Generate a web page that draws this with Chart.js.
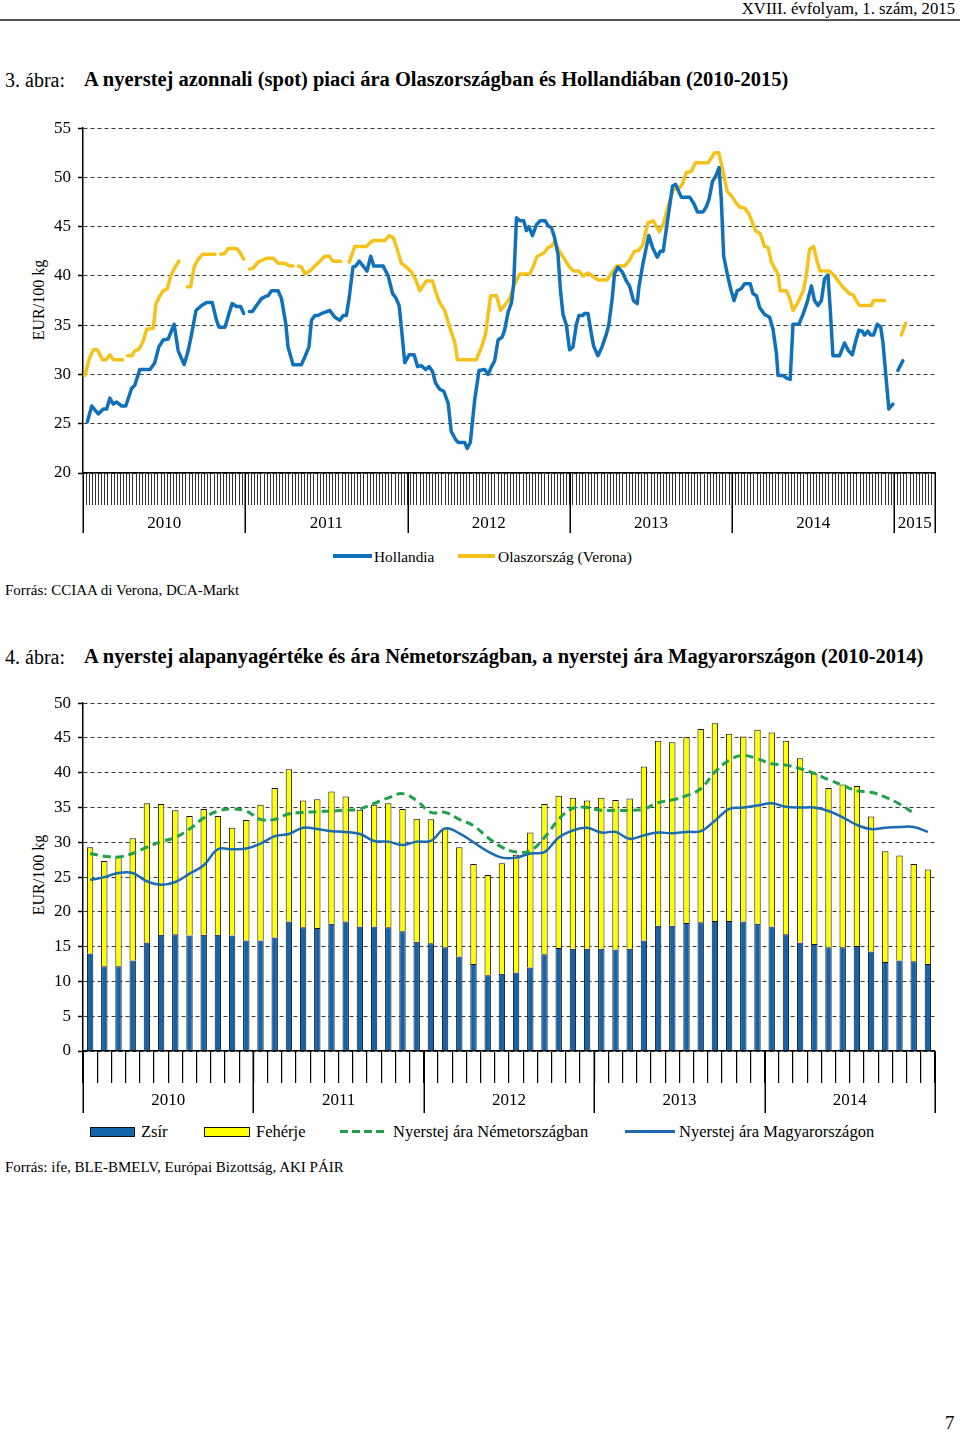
<!DOCTYPE html>
<html>
<head>
<meta charset="utf-8">
<script src="https://cdn.jsdelivr.net/npm/chart.js@4.4.1/dist/chart.umd.min.js"></script>
<style>
  html, body { margin: 0; padding: 0; background: #fff; }
  body { width: 960px; height: 1433px; position: relative; overflow: hidden; font-family: "Liberation Serif", "Times New Roman", serif; color: #000; }
  .t { position: absolute; white-space: nowrap; line-height: 1; }
  canvas { position: absolute; left: 0; }
  .ytitle { position: absolute; white-space: nowrap; font-size: 16px; line-height: 1; transform: translate(-50%, -50%) rotate(-90deg); }
  .sw { position: absolute; }
</style>
</head>
<body>
<div class="t" style="right:5px; top:1px; font-size:16.7px;">XVIII. évfolyam, 1. szám, 2015</div>
<div style="position:absolute; left:0; top:19px; width:960px; height:2px; background:#555;"></div>

<div class="t" style="left:5px; top:70px; font-size:20px;">3. ábra:</div>
<div class="t" style="left:84px; top:69px; font-size:20.5px; font-weight:bold;">A nyerstej azonnali (spot) piaci ára Olaszországban és Hollandiában (2010-2015)</div>

<div class="ytitle" style="left:39px; top:300px;">EUR/100 kg</div>
<canvas id="c1" width="960" height="436" style="top:111px;"></canvas>

<div class="sw" style="left:333px; top:554px; width:39px; height:4px; background:#1170BA;"></div>
<div class="t" style="left:374px; top:549px; font-size:15.3px;">Hollandia</div>
<div class="sw" style="left:458px; top:554px; width:37px; height:4px; background:#F5C21B;"></div>
<div class="t" style="left:498px; top:549px; font-size:15.5px;">Olaszország (Verona)</div>

<div class="t" style="left:5px; top:583px; font-size:15px;">Forrás: CCIAA di Verona, DCA-Markt</div>

<div class="t" style="left:5px; top:647px; font-size:20px;">4. ábra:</div>
<div class="t" style="left:84px; top:646px; font-size:20.5px; font-weight:bold;">A nyerstej alapanyagértéke és ára Németországban, a nyerstej ára Magyarországon (2010-2014)</div>

<div class="ytitle" style="left:39px; top:875px;">EUR/100 kg</div>
<canvas id="c2" width="960" height="432" style="top:686px;"></canvas>

<div class="sw" style="left:90px; top:1127px; width:43px; height:8px; background:#1464AA; border:1px solid #111;"></div>
<div class="t" style="left:141px; top:1124px; font-size:16.5px;">Zsír</div>
<div class="sw" style="left:204px; top:1127px; width:44px; height:8px; background:#FFFF00; border:1px solid #111;"></div>
<div class="t" style="left:256px; top:1124px; font-size:16.5px;">Fehérje</div>
<div class="sw" style="left:340px; top:1130px; width:48px; height:3px; background:repeating-linear-gradient(90deg, #1FA14A 0 8px, transparent 8px 12px);"></div>
<div class="t" style="left:393px; top:1124px; font-size:16.5px;">Nyerstej ára Németországban</div>
<div class="sw" style="left:625px; top:1130px; width:50px; height:3px; background:#1B6BB3;"></div>
<div class="t" style="left:679px; top:1124px; font-size:16.5px;">Nyerstej ára Magyarországon</div>

<div class="t" style="left:5px; top:1160px; font-size:15px;">Forrás: ife, BLE-BMELV, Európai Bizottság, AKI PÁIR</div>

<div class="t" style="left:945px; top:1413px; font-size:19px;">7</div>

<script>
// ===== Chart 3: weekly spot prices (week index from start of 2010, value EUR/100 kg; null = gap) =====
const hollWeeks = [1.4,2.8,4.9,6.5,7.6,8.6,9.7,10.8,12.4,13.7,15.6,16.6,18.2,21.5,23.0,24.3,25.7,27.3,29.2,30.5,32.4,33.7,34.8,36.2,38.0,39.6,41.4,42.8,43.6,45.5,46.7,47.8,49.2,50.5,51.5,52.4,
53.3,54.3,55.6,57.2,58.3,59.3,60.4,62.5,63.6,65.0,65.7,67.3,70.0,71.1,72.4,73.2,74.3,75.4,76.4,77.5,79.1,80.7,82.3,83.4,84.4,85.3,86.5,87.4,88.5,89.8,91.0,92.2,93.2,96.2,97.8,99.2,100.2,101.3,102.0,103.1,104.5,106.1,107.2,108.4,109.8,110.9,112.0,113.0,114.3,115.6,117.0,118.0,119.4,120.2,122.3,123.1,124.1,125.5,126.9,128.7,129.8,130.9,131.9,133.0,134.3,135.1,136.2,137.3,138.0,138.9,140.1,141.2,142.1,142.9,144.0,145.3,146.5,148.1,149.0,150.1,151.1,152.2,153.0,153.8,154.9,155.9,157.0,158.1,158.9,160.2,160.7,161.8,162.9,163.6,165.0,166.3,167.7,168.5,169.6,170.3,171.4,172.8,174.1,175.1,176.4,177.6,178.1,179.4,180.5,181.3,182.5,184.0,185.0,185.9,187.1,188.9,189.9,191.7,194.4,195.8,196.9,198.7,199.7,200.6,201.7,202.7,203.8,204.5,205.3,206.7,207.7,208.6,209.6,210.9,212.0,213.8,214.7,215.8,216.8,218.4,220.0,221.1,222.2,222.7,224.3,225.6,226.6,227.5,229.4,230.7,232.0,233.4,234.4,235.5,236.6,237.6,238.7,239.4,240.3,242.4,244.0,245.3,246.5,247.6,248.6,249.7,250.4,251.5,252.4,253.3,254.5,255.6,256.3,257.2,258.2,259.5,260.3,261.1,262.7];
const hollVals = [25.2,26.8,26.0,26.5,26.5,27.6,27.0,27.2,26.8,26.8,28.6,28.9,30.5,30.5,31.2,32.8,33.5,33.6,35.1,32.4,31.0,32.4,34.1,36.5,37.0,37.3,37.3,35.5,34.8,34.8,36.1,37.2,36.9,36.9,36.2,null,
36.4,36.4,37.0,37.7,37.9,38.0,38.5,38.5,37.7,35.1,32.8,31.0,31.0,31.8,32.8,35.5,36.0,36.0,36.2,36.3,36.5,35.8,35.5,36.0,36.0,37.8,40.9,41.0,41.5,41.0,40.5,42.0,41.0,41.0,40.0,38.2,37.8,37.0,34.8,31.2,32.0,32.0,30.8,30.9,30.5,30.8,30.3,29.1,28.5,28.3,27.1,24.2,23.4,23.1,23.1,22.5,23.1,27.4,30.4,30.5,30.0,30.8,31.4,33.5,33.8,34.5,36.3,37.3,39.2,45.9,45.6,45.6,44.6,45.0,44.1,45.2,45.6,45.6,45.1,44.9,43.9,42.2,38.5,36.1,35.0,32.5,32.8,35.1,36.0,36.0,36.2,36.2,34.1,32.9,31.9,32.8,34.1,35.1,37.8,40.2,40.9,40.4,39.5,39.0,37.5,37.2,38.8,41.2,42.9,44.1,42.9,41.9,42.5,42.5,45.2,49.1,49.3,48.0,48.0,47.3,46.5,46.5,47.0,47.8,49.6,50.1,51.0,47.9,42.0,39.8,38.5,37.5,38.5,38.7,39.2,39.2,38.2,38.0,36.8,36.1,35.8,34.6,32.1,29.9,29.9,29.6,29.5,35.1,35.1,36.1,37.3,39.0,37.5,37.0,37.5,39.7,40.1,36.8,31.9,31.9,33.2,32.4,32.0,33.4,34.5,34.4,34.0,34.4,34.0,34.0,35.1,34.8,33.3,30.1,26.5,27.0,null,30.4,31.4];

const itWeeks = [0.6,2.0,3.3,4.6,6.3,7.4,8.6,9.7,12.7,13.5,14.3,15.6,16.6,18.0,19.3,20.4,22.5,23.4,24.7,25.7,27.0,28.1,29.5,30.7,32.0,33.4,34.5,35.6,36.9,38.3,42.3,43.2,44.2,45.5,46.5,49.2,50.3,51.5,52.4,53.3,54.5,56.1,57.5,58.8,61.0,62.5,64.7,66.3,67.3,68.1,69.0,70.0,71.1,72.7,74.3,75.9,77.5,78.9,80.1,82.6,84.0,85.3,87.1,90.8,92.4,93.0,96.7,98.1,99.4,100.7,102.0,103.6,105.2,106.5,107.9,109.0,110.0,112.0,113.2,114.3,115.9,117.5,119.1,120.0,126.0,127.7,129.0,130.6,132.5,133.8,135.1,136.7,138.3,139.9,143.1,144.2,145.5,146.9,147.9,149.0,150.1,151.1,152.7,154.3,155.9,157.2,158.9,160.2,161.8,163.2,165.0,167.9,169.6,170.9,173.5,174.9,176.7,178.1,179.4,181.0,182.7,184.7,186.1,187.5,189.1,190.7,192.0,193.3,194.9,196.3,200.3,202.4,203.7,205.1,206.4,208.1,209.3,210.4,212.0,213.4,214.5,215.5,217.0,218.4,219.5,220.6,221.6,222.7,223.4,225.4,226.4,227.5,229.1,230.9,231.8,232.8,234.1,235.2,236.2,239.2,240.8,242.4,244.0,245.6,246.7,247.8,248.8,252.6,253.3,256.8,259.0,262.2,263.6];
const itVals = [29.9,31.6,32.5,32.5,31.5,31.5,32.0,31.5,31.5,null,31.9,31.9,32.4,32.6,33.4,34.6,34.7,37.2,38.0,38.5,38.7,40.0,40.9,41.5,null,38.9,38.9,40.9,41.7,42.2,42.2,null,42.2,42.3,42.8,42.8,42.4,41.7,null,40.7,40.8,41.4,41.6,41.8,41.8,41.3,41.3,41.0,41.0,null,41.0,40.9,40.2,40.5,41.0,41.5,42.0,42.0,41.5,41.5,null,41.4,43.0,43.0,43.5,43.6,43.6,44.1,43.9,42.7,41.3,40.9,40.4,39.7,38.5,39.0,39.5,39.5,38.2,37.3,36.5,34.8,33.3,31.5,31.5,32.8,34.1,38.0,38.0,36.5,37.0,37.7,39.2,40.2,40.2,40.9,42.0,42.2,42.4,42.9,43.0,43.5,42.5,41.7,40.9,40.5,40.5,40.0,40.3,40.0,39.6,39.6,40.4,41.0,41.0,41.5,42.5,42.6,43.2,45.4,45.6,44.5,45.4,47.1,48.8,48.8,49.3,50.5,50.6,51.5,51.5,52.5,52.5,50.6,48.6,48.0,47.4,47.0,46.9,46.3,45.4,44.6,44.3,43.0,42.9,41.4,40.8,40.2,38.5,38.5,37.8,36.5,37.3,38.6,40.2,42.7,43.0,41.5,40.5,40.5,40.0,39.3,38.7,38.2,38.1,37.5,37.0,37.0,37.5,37.5,null,34.0,35.2];

const years1 = ['2010','2011','2012','2013','2014','2015'];
const yearBounds1 = [0,52,104,156,208,260,273];

// ===== Chart 4: monthly values 2010-2014 =====
const months = [];
['2010','2011','2012','2013','2014'].forEach(y => { for (let m = 1; m <= 12; m++) months.push(y + '-' + String(m).padStart(2,'0')); });
const zsir = [14.0,12.2,12.2,13.0,15.6,16.7,16.8,16.6,16.7,16.7,16.6,15.9,15.9,16.3,18.6,17.8,17.7,18.3,18.6,17.9,17.9,17.8,17.2,15.7,15.5,14.9,13.6,12.5,10.9,11.1,11.3,12.0,13.9,14.8,14.7,14.7,14.7,14.6,14.7,15.9,18.0,18.0,18.4,18.5,18.7,18.7,18.6,18.3,17.9,16.8,15.6,15.4,14.9,14.9,15.1,14.3,12.8,13.0,12.9,12.5];
const feherje = [15.3,15.1,15.7,17.6,20.0,18.8,17.8,17.2,18.1,17.1,15.5,17.3,19.5,21.5,21.9,18.2,18.5,19.0,18.0,16.8,17.5,17.8,17.6,17.7,17.8,17.1,15.7,14.4,14.4,15.9,16.9,19.4,21.6,21.9,21.7,21.3,21.7,21.5,21.6,25.0,26.6,26.4,26.7,27.8,28.4,26.9,26.6,27.9,27.9,27.8,26.5,24.5,22.9,23.4,23.0,19.4,15.9,15.1,14.0,13.6];
const nemet = [28.4,28.0,27.9,28.4,29.3,30.1,30.7,31.9,33.5,34.5,34.8,34.5,33.3,33.3,34.1,34.3,34.4,34.5,34.6,34.8,35.6,36.4,37.0,36.0,34.3,34.3,33.3,32.4,30.7,29.3,28.6,28.8,30.7,33.3,34.9,35.0,34.6,34.6,34.6,34.8,35.7,36.1,36.7,37.7,40.1,41.8,42.5,42.0,41.3,41.1,40.6,39.9,39.0,38.2,37.4,37.2,36.5,35.5,34.2,null];
const magyar = [24.6,25.0,25.6,25.6,24.4,23.9,24.3,25.5,26.7,29.0,29.0,29.1,29.8,30.9,31.2,32.1,31.9,31.6,31.5,31.2,30.2,30.1,29.6,30.1,30.2,32.0,31.3,30.0,28.7,27.8,27.8,28.4,28.6,30.7,31.7,32.1,31.4,31.5,30.5,31.0,31.4,31.3,31.5,31.6,33.1,34.8,35.0,35.3,35.6,35.1,35.0,35.0,34.5,33.6,32.5,31.9,32.1,32.2,32.2,31.5];
const years2 = ['2010','2011','2012','2013','2014'];
const yearBounds2 = [-0.5,11.5,23.5,35.5,47.5,59.5];

// ===== shared helpers =====
const FONT = '"Liberation Serif", "Times New Roman", serif';

const yearAxisPlugin = {
  id: 'yearAxis',
  afterDraw(chart, args, opts) {
    const xs = chart.scales.x;
    const ctx = chart.ctx;
    const y0 = chart.chartArea.bottom;
    ctx.save();
    ctx.strokeStyle = '#000';
    ctx.lineWidth = 1.5;
    const px = opts.bounds.map(b => xs.getPixelForValue(b));
    px.forEach(p => {
      const x = Math.round(p) + 0.25;
      ctx.beginPath();
      ctx.moveTo(x, y0);
      ctx.lineTo(x, y0 + opts.sepLength);
      ctx.stroke();
    });
    ctx.fillStyle = '#000';
    ctx.font = opts.fontSize + 'px ' + FONT;
    ctx.textAlign = 'center';
    ctx.textBaseline = 'middle';
    opts.labels.forEach((lab, i) => {
      ctx.fillText(lab, (px[i] + px[i + 1]) / 2, y0 + opts.labelY);
    });
    ctx.restore();
  }
};

function yAxis(min, max) {
  return {
    min: min, max: max,
    afterFit(scale) { scale.width = 83; },
    ticks: { stepSize: 5, color: '#000', font: { family: FONT, size: 17 }, padding: 7 },
    grid: { color: '#3a3a3a', lineWidth: 1, tickLength: 5, tickColor: '#000', tickBorderDash: [], tickWidth: 1.5 },
    border: { display: true, color: '#000', width: 1.5, dash: [4, 3] }
  };
}

// ===== Chart 3 =====
const toPts = (ws, vs) => ws.map((w, i) => ({ x: w, y: vs[i] }));

new Chart(document.getElementById('c1'), {
  type: 'line',
  data: {
    datasets: [
      { label: 'Hollandia', data: toPts(hollWeeks, hollVals), borderColor: '#1170BA', borderWidth: 3.5, pointRadius: 0, tension: 0, spanGaps: false, borderJoinStyle: 'round', borderCapStyle: 'round' },
      { label: 'Olaszország (Verona)', data: toPts(itWeeks, itVals), borderColor: '#F5C21B', borderWidth: 3.5, pointRadius: 0, tension: 0, spanGaps: false, borderJoinStyle: 'round', borderCapStyle: 'round' }
    ]
  },
  options: {
    responsive: false,
    animation: false,
    layout: { padding: { top: 4, right: 25, bottom: 0, left: 0 } },
    plugins: {
      legend: { display: false },
      tooltip: { enabled: false },
      yearAxis: { bounds: yearBounds1, labels: years1, sepLength: 60, labelY: 51, fontSize: 17 }
    },
    scales: {
      x: {
        type: 'linear', min: 0, max: 273,
        afterFit(scale) { scale.height = 74; },
        ticks: { stepSize: 1, display: false },
        grid: { drawOnChartArea: false, drawTicks: true, tickLength: 32, color: '#333', lineWidth: 1 },
        border: { display: true, color: '#000', width: 1.5 }
      },
      y: yAxis(20, 55)
    }
  },
  plugins: [yearAxisPlugin]
});

// ===== Chart 4 =====
new Chart(document.getElementById('c2'), {
  type: 'bar',
  data: {
    labels: months,
    datasets: [
      { type: 'line', label: 'Nyerstej ára Németországban', data: nemet, borderColor: '#1FA14A', borderWidth: 3, borderDash: [8, 5], pointRadius: 0, tension: 0.4, stack: 'de', order: 0 },
      { type: 'line', label: 'Nyerstej ára Magyarországon', data: magyar, borderColor: '#1B6BB3', borderWidth: 2.5, pointRadius: 0, tension: 0.4, stack: 'hu', order: 0 },
      { label: 'Zsír', data: zsir, backgroundColor: '#1464AA', borderColor: '#111', borderWidth: 1, stack: 'bars', barPercentage: 0.45, categoryPercentage: 1, order: 1 },
      { label: 'Fehérje', data: feherje, backgroundColor: '#FFFF00', borderColor: '#111', borderWidth: 1, stack: 'bars', barPercentage: 0.45, categoryPercentage: 1, order: 1 }
    ]
  },
  options: {
    responsive: false,
    animation: false,
    layout: { padding: { top: 3, right: 25, bottom: 0, left: 0 } },
    plugins: {
      legend: { display: false },
      tooltip: { enabled: false },
      yearAxis: { bounds: yearBounds2, labels: years2, sepLength: 62, labelY: 50, fontSize: 17 }
    },
    scales: {
      x: {
        type: 'category', stacked: true,
        afterFit(scale) { scale.height = 67; },
        ticks: { display: false },
        grid: { offset: true, drawOnChartArea: false, drawTicks: true, tickLength: 32, color: '#000', lineWidth: 1.2 },
        border: { display: true, color: '#000', width: 1.5 }
      },
      y: Object.assign(yAxis(0, 50), { stacked: true })
    }
  },
  plugins: [yearAxisPlugin]
});
</script>
</body>
</html>
